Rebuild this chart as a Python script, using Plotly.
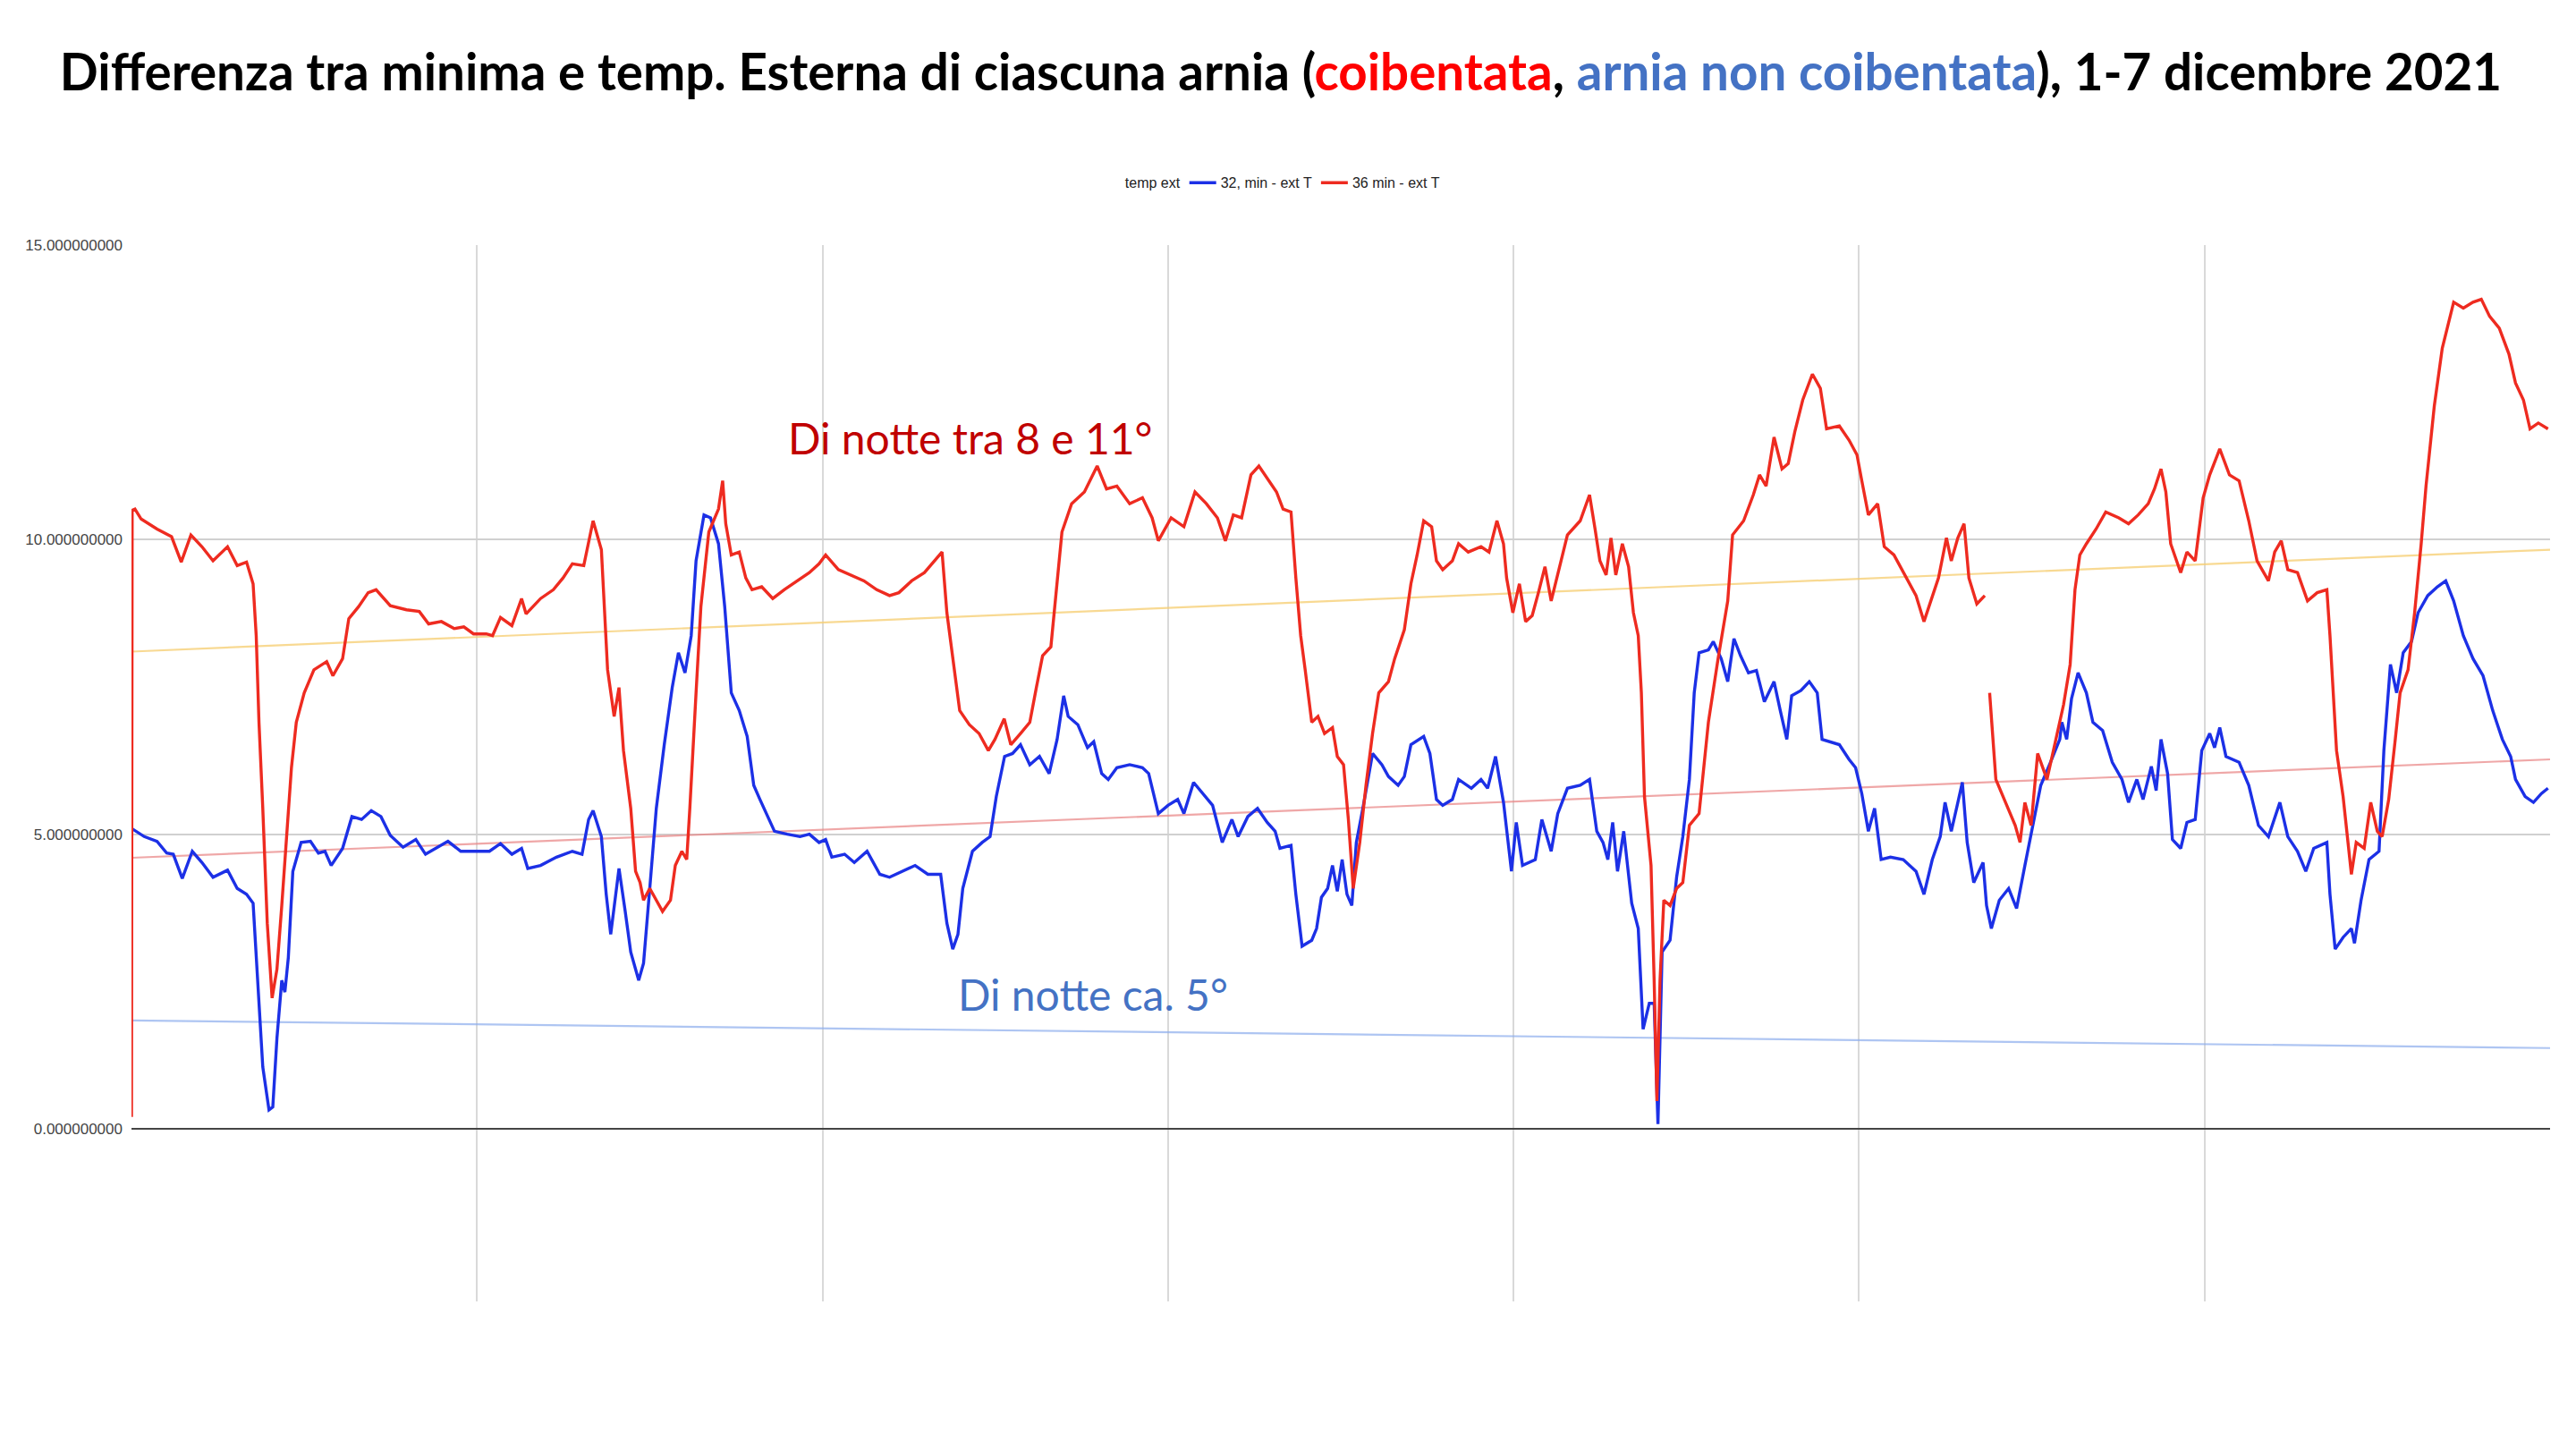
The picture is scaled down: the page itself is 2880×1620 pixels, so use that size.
import plotly.graph_objects as go

# ---- data (x = days since 1 Dec 2021 00:00, y = °C difference) ----
days_36 = [0.000, 0.002, 0.010, 0.028, 0.074, 0.116, 0.144, 0.172, 0.204, 0.236, 0.278, 0.306, 0.333, 0.352, 0.361,
           0.369, 0.380, 0.393, 0.407, 0.421, 0.435, 0.449, 0.463, 0.477, 0.500, 0.528, 0.565, 0.583, 0.611, 0.629,
           0.657, 0.685, 0.708, 0.749, 0.796, 0.833, 0.860, 0.897, 0.934, 0.962, 0.990, 1.027, 1.045, 1.068, 1.101,
           1.129, 1.142, 1.184, 1.221, 1.249, 1.276, 1.309, 1.336, 1.360, 1.369, 1.378, 1.397, 1.411, 1.424, 1.445,
           1.459, 1.472, 1.482, 1.500, 1.537, 1.560, 1.574, 1.593, 1.607, 1.616, 1.634, 1.648, 1.671, 1.699, 1.711,
           1.720, 1.736, 1.759, 1.778, 1.796, 1.824, 1.856, 1.889, 1.926, 1.962, 1.990, 2.009, 2.046, 2.083, 2.120,
           2.157, 2.194, 2.221, 2.258, 2.295, 2.323, 2.346, 2.360, 2.379, 2.397, 2.425, 2.453, 2.480, 2.499, 2.526,
           2.545, 2.573, 2.600, 2.619, 2.637, 2.661, 2.674, 2.693, 2.721, 2.758, 2.795, 2.822, 2.852, 2.889, 2.926,
           2.954, 2.972, 3.009, 3.046, 3.078, 3.111, 3.143, 3.166, 3.189, 3.213, 3.240, 3.263, 3.291, 3.314, 3.333,
           3.356, 3.370, 3.384, 3.397, 3.416, 3.434, 3.453, 3.476, 3.490, 3.508, 3.522, 3.536, 3.555, 3.573, 3.592,
           3.610, 3.638, 3.656, 3.684, 3.703, 3.721, 3.740, 3.763, 3.777, 3.795, 3.823, 3.841, 3.869, 3.888, 3.906,
           3.929, 3.952, 3.971, 3.980, 3.998, 4.017, 4.035, 4.054, 4.072, 4.091, 4.109, 4.133, 4.156, 4.193, 4.220,
           4.236, 4.250, 4.268, 4.282, 4.296, 4.315, 4.333, 4.347, 4.361, 4.370, 4.379, 4.398, 4.407, 4.415, 4.424,
           4.435, 4.453, 4.472, 4.490, 4.509, 4.537, 4.564, 4.592, 4.620, 4.634, 4.666, 4.694, 4.712, 4.731, 4.754,
           4.777, 4.795, 4.814, 4.837, 4.865, 4.888, 4.906, 4.943, 4.971, 4.994, 5.008, 5.027, 5.054, 5.073, 5.101,
           5.138, 5.165, 5.188, 5.207, 5.230, 5.253, 5.267, 5.286, 5.304, 5.318, 5.341, 5.364, 5.369, 5.378, 5.396,
           5.424, 5.452, 5.466, 5.480, 5.498, 5.517, 5.544, 5.563, 5.581, 5.592, 5.611, 5.625, 5.639, 5.658, 5.686,
           5.714, 5.752, 5.780, 5.808, 5.837, 5.855, 5.874, 5.888, 5.902, 5.931, 5.949, 5.973, 5.996, 6.015, 6.044,
           6.072, 6.100, 6.128, 6.152, 6.185, 6.203, 6.222, 6.241, 6.269, 6.298, 6.326, 6.354, 6.363, 6.373, 6.382,
           6.401, 6.415, 6.425, 6.439, 6.462, 6.481, 6.500, 6.514, 6.533, 6.552, 6.566, 6.589, 6.608, 6.627, 6.641,
           6.665, 6.688, 6.721, 6.749, 6.777, 6.801, 6.825, 6.853, 6.881, 6.900, 6.923, 6.942, 6.966, 6.994]
vals_36 = [0.20, 10.50, 10.52, 10.35, 10.18, 10.05, 9.62, 10.08, 9.88, 9.64, 9.88, 9.56, 9.62, 9.25, 8.37,
           6.90, 5.44, 3.49, 2.22, 2.71, 3.79, 4.90, 6.13, 6.90, 7.40, 7.79, 7.93, 7.69, 7.98, 8.66,
           8.86, 9.10, 9.15, 8.88, 8.81, 8.78, 8.57, 8.61, 8.49, 8.52, 8.40, 8.40, 8.37, 8.68, 8.54,
           9.00, 8.74, 9.00, 9.15, 9.35, 9.59, 9.56, 10.32, 9.83, 8.86, 7.79, 7.00, 7.49, 6.42, 5.44,
           4.37, 4.18, 3.88, 4.08, 3.69, 3.88, 4.47, 4.71, 4.57, 5.44, 7.40, 8.86, 10.13, 10.52, 11.00,
           10.27, 9.74, 9.79, 9.35, 9.15, 9.20, 9.00, 9.15, 9.30, 9.44, 9.59, 9.74, 9.49, 9.40, 9.30,
           9.15, 9.05, 9.10, 9.30, 9.44, 9.64, 9.79, 8.76, 7.88, 7.10, 6.86, 6.71, 6.42, 6.61, 6.96,
           6.52, 6.71, 6.90, 7.49, 8.03, 8.18, 8.96, 10.13, 10.61, 10.81, 11.25, 10.86, 10.91, 10.61, 10.71,
           10.37, 9.98, 10.37, 10.22, 10.81, 10.61, 10.37, 9.98, 10.42, 10.37, 11.10, 11.25, 11.00, 10.81, 10.52,
           10.47, 9.35, 8.37, 7.79, 6.90, 7.00, 6.71, 6.81, 6.32, 6.18, 5.25, 4.08, 4.86, 5.83, 6.71,
           7.40, 7.59, 7.98, 8.47, 9.25, 9.74, 10.32, 10.22, 9.64, 9.49, 9.64, 9.93, 9.79, 9.83, 9.88,
           9.79, 10.32, 9.93, 9.35, 8.76, 9.25, 8.61, 8.71, 9.10, 9.54, 8.96, 9.54, 10.08, 10.32, 10.76,
           10.18, 9.64, 9.40, 10.03, 9.40, 9.93, 9.54, 8.76, 8.37, 7.40, 5.64, 4.47, 2.52, 0.47, 2.52,
           3.88, 3.79, 4.08, 4.18, 5.15, 5.35, 6.90, 7.98, 8.96, 10.08, 10.32, 10.76, 11.10, 10.91, 11.74,
           11.20, 11.29, 11.83, 12.37, 12.81, 12.57, 11.88, 11.93, 11.69, 11.44, 11.00, 10.42, 10.61, 9.88, 9.74,
           9.35, 9.05, 8.61, 8.96, 9.35, 10.03, 9.64, 10.03, 10.27, 9.35, 8.91, 9.05, None, 7.40, 5.93,
           5.54, 5.15, 4.86, 5.54, 5.15, 6.37, 5.93, 6.42, 6.90, 7.20, 7.88, 9.15, 9.74, 9.93, 10.18,
           10.47, 10.37, 10.27, 10.42, 10.61, 10.86, 11.20, 10.81, 9.93, 9.44, 9.79, 9.64, 10.71, 11.10, 11.54,
           11.10, 11.00, 10.32, 9.64, 9.30, 9.79, 9.98, 9.49, 9.44, 8.96, 9.10, 9.15, 8.37, 7.40, 6.42,
           5.64, 4.86, 4.32, 4.86, 4.76, 5.54, 5.05, 4.96, 5.59, 6.61, 7.40, 7.79, 8.76, 9.93, 10.91,
           12.27, 13.25, 14.03, 13.93, 14.03, 14.08, 13.79, 13.59, 13.15, 12.66, 12.37, 11.88, 11.98, 11.88]

days_32 = [0.000, 0.037, 0.074, 0.102, 0.121, 0.147, 0.176, 0.204, 0.236, 0.278, 0.306, 0.333, 0.352, 0.361, 0.380,
           0.398, 0.409, 0.421, 0.435, 0.444, 0.454, 0.467, 0.491, 0.518, 0.541, 0.560, 0.578, 0.611, 0.638, 0.666,
           0.694, 0.722, 0.749, 0.786, 0.823, 0.851, 0.888, 0.916, 0.953, 0.999, 1.036, 1.068, 1.101, 1.129, 1.147,
           1.184, 1.230, 1.276, 1.304, 1.323, 1.336, 1.360, 1.374, 1.387, 1.411, 1.429, 1.445, 1.468, 1.482, 1.500,
           1.519, 1.542, 1.565, 1.583, 1.602, 1.620, 1.634, 1.657, 1.676, 1.699, 1.717, 1.736, 1.759, 1.782, 1.801,
           1.819, 1.838, 1.861, 1.898, 1.935, 1.962, 1.990, 2.009, 2.027, 2.064, 2.092, 2.129, 2.166, 2.194, 2.231,
           2.268, 2.305, 2.342, 2.360, 2.377, 2.392, 2.406, 2.434, 2.462, 2.485, 2.503, 2.527, 2.550, 2.573, 2.600,
           2.628, 2.656, 2.679, 2.698, 2.711, 2.739, 2.767, 2.785, 2.808, 2.827, 2.852, 2.889, 2.926, 2.944, 2.972,
           3.000, 3.028, 3.046, 3.074, 3.102, 3.129, 3.157, 3.185, 3.203, 3.231, 3.259, 3.287, 3.310, 3.324, 3.356,
           3.370, 3.388, 3.416, 3.430, 3.444, 3.462, 3.476, 3.490, 3.504, 3.518, 3.532, 3.545, 3.564, 3.592, 3.619,
           3.638, 3.666, 3.684, 3.703, 3.740, 3.758, 3.777, 3.795, 3.823, 3.841, 3.878, 3.906, 3.925, 3.948, 3.971,
           3.994, 4.008, 4.026, 4.063, 4.082, 4.109, 4.128, 4.156, 4.193, 4.220, 4.241, 4.259, 4.273, 4.287, 4.301,
           4.319, 4.342, 4.361, 4.375, 4.393, 4.407, 4.418, 4.430, 4.453, 4.472, 4.490, 4.509, 4.523, 4.537, 4.564,
           4.578, 4.601, 4.620, 4.638, 4.657, 4.680, 4.703, 4.726, 4.754, 4.772, 4.791, 4.805, 4.832, 4.856, 4.879,
           4.893, 4.916, 4.943, 4.971, 4.990, 5.008, 5.027, 5.045, 5.064, 5.091, 5.128, 5.165, 5.188, 5.212, 5.235,
           5.249, 5.267, 5.286, 5.299, 5.313, 5.332, 5.359, 5.369, 5.383, 5.406, 5.433, 5.456, 5.480, 5.503, 5.526,
           5.554, 5.581, 5.587, 5.601, 5.615, 5.634, 5.658, 5.677, 5.705, 5.733, 5.761, 5.780, 5.804, 5.822, 5.846,
           5.860, 5.874, 5.893, 5.907, 5.931, 5.949, 5.973, 5.992, 6.015, 6.029, 6.044, 6.062, 6.100, 6.128, 6.156,
           6.185, 6.218, 6.241, 6.269, 6.293, 6.316, 6.354, 6.363, 6.378, 6.401, 6.425, 6.434, 6.453, 6.476, 6.505,
           6.519, 6.538, 6.556, 6.575, 6.599, 6.618, 6.646, 6.674, 6.698, 6.721, 6.749, 6.777, 6.806, 6.834, 6.862,
           6.886, 6.900, 6.928, 6.952, 6.975, 6.994]
vals_32 = [5.10, 4.96, 4.88, 4.68, 4.66, 4.25, 4.71, 4.52, 4.27, 4.39, 4.08, 3.98, 3.83, 3.00, 1.05,
           0.32, 0.37, 1.54, 2.52, 2.32, 2.91, 4.37, 4.86, 4.88, 4.68, 4.71, 4.47, 4.76, 5.30, 5.25,
           5.40, 5.30, 4.98, 4.78, 4.91, 4.66, 4.78, 4.88, 4.71, 4.71, 4.71, 4.84, 4.66, 4.76, 4.42,
           4.47, 4.61, 4.71, 4.66, 5.25, 5.40, 4.96, 3.98, 3.30, 4.42, 3.69, 3.00, 2.52, 2.81, 4.08,
           5.44, 6.52, 7.49, 8.08, 7.74, 8.37, 9.64, 10.42, 10.37, 9.93, 8.86, 7.40, 7.10, 6.66, 5.83,
           5.59, 5.35, 5.05, 5.00, 4.96, 5.00, 4.86, 4.91, 4.61, 4.66, 4.52, 4.71, 4.32, 4.27, 4.37,
           4.47, 4.32, 4.32, 3.49, 3.05, 3.30, 4.08, 4.71, 4.86, 4.96, 5.64, 6.32, 6.37, 6.52, 6.18,
           6.32, 6.03, 6.61, 7.35, 7.00, 6.86, 6.47, 6.57, 6.03, 5.93, 6.13, 6.18, 6.13, 6.03, 5.35,
           5.49, 5.59, 5.35, 5.88, 5.69, 5.49, 4.86, 5.25, 4.96, 5.30, 5.44, 5.20, 5.05, 4.76, 4.81,
           3.98, 3.10, 3.20, 3.40, 3.93, 4.08, 4.47, 4.03, 4.57, 3.98, 3.79, 4.86, 5.44, 6.37, 6.18,
           5.98, 5.83, 5.98, 6.52, 6.66, 6.37, 5.59, 5.49, 5.59, 5.93, 5.78, 5.93, 5.78, 6.32, 5.54,
           4.37, 5.20, 4.47, 4.57, 5.25, 4.71, 5.35, 5.78, 5.83, 5.93, 5.05, 4.86, 4.57, 5.20, 4.37,
           5.05, 3.83, 3.40, 1.69, 2.13, 2.13, 0.08, 3.00, 3.20, 4.27, 4.96, 5.93, 7.40, 8.08, 8.13,
           8.27, 7.98, 7.59, 8.32, 8.03, 7.74, 7.78, 7.25, 7.59, 7.10, 6.61, 7.35, 7.44, 7.59, 7.40,
           6.61, 6.57, 6.52, 6.27, 6.13, 5.69, 5.05, 5.44, 4.57, 4.61, 4.57, 4.37, 3.98, 4.57, 4.96,
           5.54, 5.05, 5.54, 5.88, 4.86, 4.18, 4.52, 3.79, 3.40, 3.88, 4.08, 3.74, 4.47, 5.15, 5.83,
           6.22, 6.61, 6.90, 6.61, 7.30, 7.74, 7.40, 6.90, 6.76, 6.22, 5.93, 5.54, 5.93, 5.59, 6.15,
           5.74, 6.61, 6.03, 4.91, 4.76, 5.20, 5.25, 6.42, 6.71, 6.47, 6.81, 6.32, 6.22, 5.83, 5.15,
           4.96, 5.54, 4.96, 4.71, 4.37, 4.76, 4.86, 3.98, 3.05, 3.25, 3.40, 3.15, 3.88, 4.57, 4.71,
           6.42, 7.88, 7.40, 8.08, 8.27, 8.76, 9.05, 9.20, 9.30, 8.96, 8.37, 7.98, 7.69, 7.10, 6.61,
           6.32, 5.93, 5.64, 5.54, 5.69, 5.78]

# linear trend lines (values at start and end of the week)
trend_days = [0.0, 7.0]
trend_ext = [8.10, 9.83]
trend_36 = [4.60, 6.27]
trend_32 = [1.84, 1.37]

y_ticks = [0, 5, 10, 15]

fig = go.Figure()

for tv, col in [(trend_ext, "rgba(246,204,110,0.75)"),
                (trend_36, "rgba(232,130,130,0.7)"),
                (trend_32, "rgba(140,172,236,0.7)")]:
    fig.add_trace(go.Scatter(x=trend_days, y=tv, mode="lines", showlegend=False,
                             line=dict(color=col, width=2.2), hoverinfo="skip"))

fig.add_trace(go.Scatter(x=[None], y=[None], mode="lines", name="temp ext",
                         line=dict(color="rgba(0,0,0,0)", width=5)))
fig.add_trace(go.Scatter(x=days_32, y=vals_32, mode="lines", name="32, min - ext T",
                         line=dict(color="#1c30e6", width=3.4), connectgaps=False))
fig.add_trace(go.Scatter(x=days_36, y=vals_36, mode="lines", name="36 min - ext T",
                         line=dict(color="#ee2b20", width=3.4), connectgaps=False))

title_text = ("<b>Differenza tra minima e temp. Esterna di ciascuna arnia "
              "(<span style='color:#ff0000'>coibentata</span>, "
              "<span style='color:#4472c4'>arnia non coibentata</span>), 1-7 dicembre 2021</b>")

fig.update_layout(
    width=2880, height=1620,
    paper_bgcolor="white", plot_bgcolor="white",
    margin=dict(l=147, r=29, t=274, b=165),
    title=dict(text=title_text, x=0.4972, xanchor="center", xref="container",
               y=1 - 81 / 1620, yanchor="middle", yref="container",
               font=dict(family="Lato", size=56.5, color="black")),
    legend=dict(orientation="h", x=0.396, xanchor="left", y=1.059, yanchor="middle",
                font=dict(family="Liberation Sans", size=16, color="#222222"),
                itemwidth=30, bgcolor="rgba(0,0,0,0)"),
    showlegend=True,
    annotations=[
        dict(text="Di notte tra 8 e 11°", x=2.426, y=11.73, xref="x", yref="y",
             showarrow=False, font=dict(family="Lato", size=48, color="#c00000")),
        dict(text="Di notte ca. 5°", x=2.783, y=2.28, xref="x", yref="y",
             showarrow=False, font=dict(family="Lato", size=48, color="#4472c4")),
    ],
)

fig.update_xaxes(range=[0, 7], tickvals=[1, 2, 3, 4, 5, 6], showticklabels=False,
                 showgrid=True, gridcolor="#d9d9d9", gridwidth=1.5, zeroline=False,
                 showline=False, ticks="")
fig.update_yaxes(range=[-2.93, 15], tickvals=y_ticks, tickformat=".9f",
                 showgrid=True, gridcolor="#d0d0d0", gridwidth=1.5,
                 zeroline=True, zerolinecolor="#444444", zerolinewidth=1.6,
                 showline=False, ticks="", ticklabelstandoff=9,
                 tickfont=dict(family="Liberation Sans", size=17, color="#444444"))

fig.write_html("out.html")
